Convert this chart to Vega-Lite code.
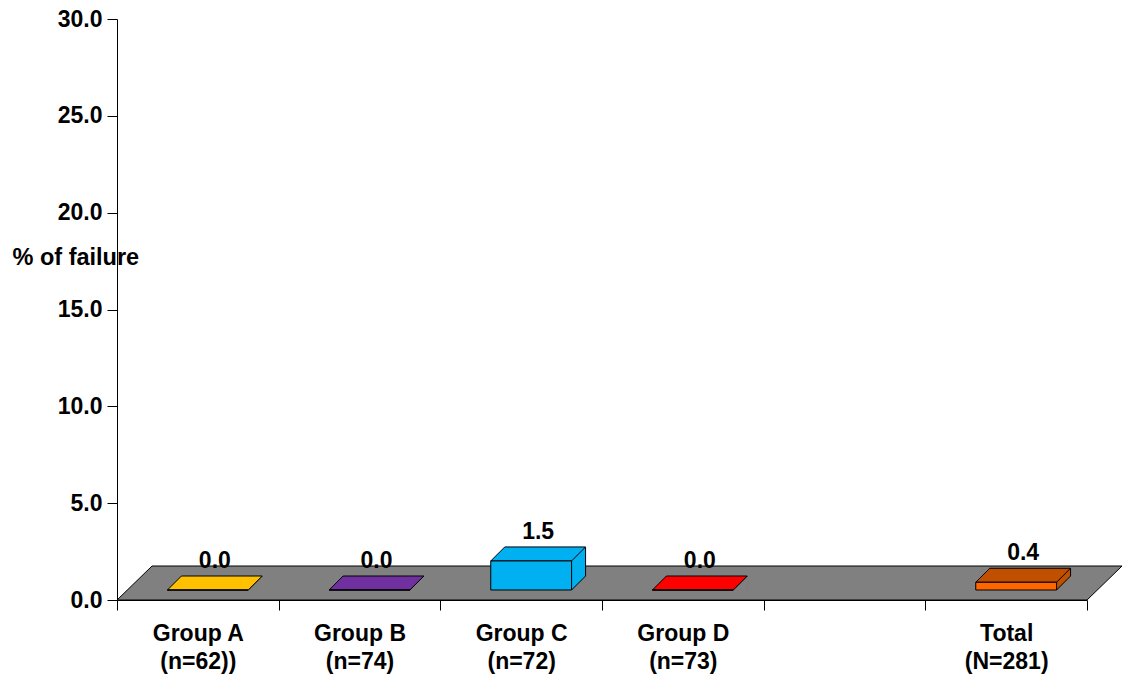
{
  "$schema": "https://vega.github.io/schema/vega-lite/v6.json",
  "width": 970,
  "height": 581,
  "autosize": {"type": "none"},
  "padding": {"left": 117, "top": 19, "right": 37, "bottom": 81},
  "background": "white",
  "config": {
    "view": {"stroke": null},
    "font": "Liberation Sans",
    "axis": {
      "labelFont": "Liberation Sans",
      "labelFontWeight": "bold",
      "labelFontSize": 23,
      "labelColor": "black",
      "titleFont": "Liberation Sans",
      "titleFontWeight": "bold",
      "titleFontSize": 23.5,
      "titleColor": "black",
      "domainColor": "black",
      "tickColor": "black",
      "grid": false
    }
  },
  "data": {
    "values": [
      {"group": "Group A\n(n=62))", "value": 0.0},
      {"group": "Group B\n(n=74)", "value": 0.0},
      {"group": "Group C\n(n=72)", "value": 1.5},
      {"group": "Group D\n(n=73)", "value": 0.0},
      {"group": "Total\n(N=281)", "value": 0.4}
    ]
  },
  "encoding": {
    "x": {
      "field": "group",
      "type": "nominal",
      "sort": null,
      "scale": {
        "domain": ["Group A\n(n=62))", "Group B\n(n=74)", "Group C\n(n=72)", "Group D\n(n=73)", "", "Total\n(N=281)"],
        "paddingInner": 0,
        "paddingOuter": 0
      },
      "axis": {
        "title": null,
        "labelAngle": 0,
        "labelExpr": "split(datum.label, '\\n')",
        "labelLineHeight": 28,
        "labelBaseline": "top",
        "labelPadding": 12,
        "tickSize": 10,
        "tickBand": "extent"
      }
    },
    "y": {
      "field": "value",
      "type": "quantitative",
      "scale": {"domain": [0, 30], "nice": false},
      "axis": {
        "values": [0, 5, 10, 15, 20, 25, 30],
        "format": ".1f",
        "tickSize": 10,
        "labelPadding": 5,
        "title": "% of failure",
        "titleAngle": 0,
        "titleAlign": "left",
        "titleBaseline": "middle",
        "titleX": -105,
        "titleY": 238
      }
    }
  },
  "layer": [
    {
      "description": "grey floor slab under the bars, anchored on the first category",
      "transform": [{"filter": {"field": "group", "equal": "Group A\n(n=62))"}}],
      "mark": {
        "type": "point",
        "shape": "M -80.8 0 L 889.2 0 L 924.2 -34 L -45.8 -34 Z",
        "size": 4,
        "filled": true,
        "fill": "#808080",
        "stroke": "black",
        "strokeWidth": 1,
        "opacity": 1
      },
      "encoding": {
        "y": {"datum": 0}
      }
    },
    {
      "description": "side face fill (bounding strip)",
      "mark": {"type": "bar", "width": 14, "xOffset": 57.4, "yOffset": -24, "y2Offset": -10, "strokeWidth": 0},
      "encoding": {
        "y2": {"datum": 0},
        "fill": {
          "field": "group",
          "type": "nominal",
          "legend": null,
          "scale": {
            "domain": ["Group A\n(n=62))", "Group B\n(n=74)", "Group C\n(n=72)", "Group D\n(n=73)", "Total\n(N=281)"],
            "range": ["#FFC000", "#7030A0", "#00B0F0", "#FF0000", "#C04F00"]
          }
        }
      }
    },
    {
      "description": "floor-coloured corner that trims the side strip into a parallelogram",
      "mark": {
        "type": "point",
        "shape": "M 50.4 -10 L 64.9 -10 L 64.9 -24.5 Z",
        "size": 4,
        "filled": true,
        "fill": "#808080",
        "strokeWidth": 0,
        "opacity": 1
      },
      "encoding": {"y": {"datum": 0}}
    },
    {
      "description": "side face back edge",
      "mark": {"type": "rule", "color": "black", "strokeWidth": 1, "xOffset": 64.4, "yOffset": -24, "y2Offset": -24},
      "encoding": {"y2": {"datum": 0}}
    },
    {
      "description": "side face bottom edge",
      "mark": {
        "type": "point",
        "shape": "M 50.4 -10 L 64.4 -24",
        "size": 4,
        "filled": false,
        "stroke": "black",
        "strokeWidth": 1,
        "opacity": 1
      },
      "encoding": {"y": {"datum": 0}}
    },
    {
      "description": "top face",
      "mark": {
        "type": "point",
        "shape": "M -30.4 -10 L 50.4 -10 L 64.4 -24 L -16.4 -24 Z",
        "size": 4,
        "filled": true,
        "stroke": "black",
        "strokeWidth": 1,
        "opacity": 1
      },
      "encoding": {
        "fill": {
          "field": "group",
          "type": "nominal",
          "legend": null,
          "scale": {
            "domain": ["Group A\n(n=62))", "Group B\n(n=74)", "Group C\n(n=72)", "Group D\n(n=73)", "Total\n(N=281)"],
            "range": ["#FFC000", "#7030A0", "#00B0F0", "#FF0000", "#C04F00"]
          }
        }
      }
    },
    {
      "description": "front face",
      "mark": {"type": "bar", "width": {"band": 0.5}, "xOffset": 10, "yOffset": -10, "y2Offset": -10, "stroke": "black", "strokeWidth": 1},
      "encoding": {
        "y2": {"datum": 0},
        "fill": {
          "field": "group",
          "type": "nominal",
          "legend": null,
          "scale": {
            "domain": ["Group A\n(n=62))", "Group B\n(n=74)", "Group C\n(n=72)", "Group D\n(n=73)", "Total\n(N=281)"],
            "range": ["#FFC000", "#7030A0", "#00B0F0", "#FF0000", "#FF6600"]
          }
        }
      }
    },
    {
      "description": "value labels",
      "mark": {"type": "text", "font": "Liberation Sans", "fontWeight": "bold", "fontSize": 23, "color": "black", "baseline": "alphabetic", "dx": 17, "dy": -32},
      "encoding": {
        "text": {"field": "value", "type": "quantitative", "format": ".1f"}
      }
    }
  ],
  "resolve": {"scale": {"fill": "independent"}}
}
